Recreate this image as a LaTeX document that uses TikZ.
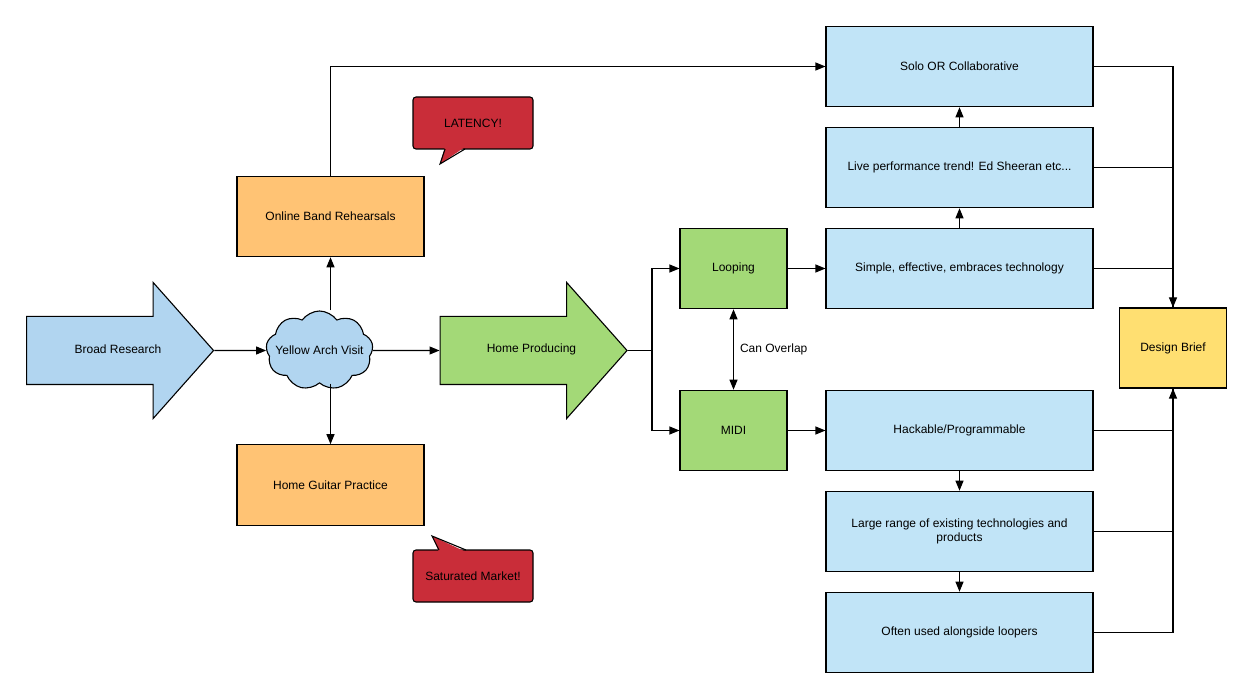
\documentclass[tikz,border=0pt]{standalone}
\usepackage{fontspec}
\setmainfont{Liberation Sans}
\usepackage{tikz}
\usetikzlibrary{positioning}
\usetikzlibrary{arrows.meta}
\usetikzlibrary{shapes.arrows,shapes.symbols}
\definecolor{boxblue}{HTML}{C1E4F7}
\definecolor{bigblue}{HTML}{B1D5F0}
\definecolor{boxorange}{HTML}{FFC374}
\definecolor{boxgreen}{HTML}{A3D977}
\definecolor{boxyellow}{HTML}{FFDF71}
\definecolor{boxred}{HTML}{C92D39}

\begin{document}
\begin{tikzpicture}[x=1pt,y=-1pt,font=\fontsize{12}{14}\selectfont,line width=1.1pt]
\tikzset{topic/.style={rectangle,minimum width=267pt,minimum height=80.5pt,align=center,draw,fill=boxblue}}
\tikzset{choice/.style={rectangle,minimum width=107pt,minimum height=80.5pt,draw,fill=boxgreen}}
\tikzset{practice/.style={rectangle,minimum width=187pt,minimum height=80.5pt,draw,fill=boxorange}}
\tikzset{bigarrow/.style={single arrow,anchor=tail,minimum height=187pt,minimum width=135pt,inner ysep=33.5pt,inner xsep=0pt,single arrow head extend=34pt,single arrow tip angle=96.8,single arrow head indent=0pt,draw}}
\tikzset{warning/.style={rectangle,minimum width=120pt,minimum height=52pt,rounded corners=3pt,draw,fill=boxred}}
\tikzset{link/.style={-{Triangle[length=10pt,width=8pt]}}}
\node[bigarrow,fill=bigblue,label={[xshift=13pt,yshift=1.5pt]center:Broad Research}] (research) at (26,350.5) {};
\node[cloud,cloud puffs=9,cloud puff arc=110,aspect=1.35,minimum width=107pt,minimum height=79pt,inner sep=0pt,draw,fill=bigblue,label={center:Yellow Arch Visit}] (visit) at (319.5,350.5) {};
\node[bigarrow,fill=boxgreen,label={[xshift=13pt,yshift=1.5pt]center:Home Producing}] (producing) at (439.5,350.5) {};
\node[practice] (online) at (330.5,216.5) {Online Band Rehearsals};
\node[practice] (guitar) at (330.5,485) {Home Guitar Practice};
\node[warning] (latency) at (473,123) {LATENCY!};
\node[warning] (market) at (473,576) {Saturated Market!};
\fill[boxred] (445,147) -- (440,164) -- (465,147) -- cycle;
\draw (445,149) -- (440,164) -- (465,149);
\fill[boxred] (439,552) -- (432,536) -- (466,552) -- cycle;
\draw (439,550) -- (432,536) -- (466,550);
\node[choice] (looping) at (733.5,268.5) {Looping};
\node[choice] (midi) at (733.5,430.5) {MIDI};
\node[topic] (solo) at (959.5,66.5) {Solo OR Collaborative};
\node[topic,below of = solo,node distance=101pt] (live) {Live performance trend! Ed Sheeran etc...};
\node[topic,below of = live,node distance=101pt] (simple) {Simple, effective, embraces technology};
\node[topic] (hack) at (959.5,430.5) {Hackable/Programmable};
\node[topic,below of = hack,node distance=101pt] (large) {Large range of existing technologies and\\products};
\node[topic,below of = large,node distance=101pt] (often) {Often used alongside loopers};
\node[rectangle,minimum width=107pt,minimum height=80pt,draw,fill=boxyellow] (brief) at (1173,348) {Design Brief};
\coordinate (fork) at (652,350.5);
\draw[link] (research.tip) -- (visit.west);
\draw[link] (visit.east) -- (producing.tail);
\draw[link] (visit.north -| online.south) -- (online.south);
\draw[link] (visit.south -| guitar.north) -- (guitar.north);
\draw[link] (online.north) |- (solo.west);
\draw (producing.tip) -- (fork);
\draw[link] (fork) |- (looping.west);
\draw[link] (fork) |- (midi.west);
\draw[link] (looping) -- (simple);
\draw[link] (midi) -- (hack);
\draw[{Triangle[length=10pt,width=8pt]}-{Triangle[length=10pt,width=8pt]}] (looping) -- node[right,inner sep=6pt] {Can Overlap} (midi);
\draw[link] (simple) -- (live);
\draw[link] (live) -- (solo);
\draw[link] (hack) -- (large);
\draw[link] (large) -- (often);
\draw[link] (solo.east) -| (brief.north);
\draw (live.east) -| (brief.north);
\draw (simple.east) -| (brief.north);
\draw[link] (hack.east) -| (brief.south);
\draw (large.east) -| (brief.south);
\draw (often.east) -| (brief.south);
\useasboundingbox (0,0) rectangle (1253,700);
\end{tikzpicture}
\end{document}
